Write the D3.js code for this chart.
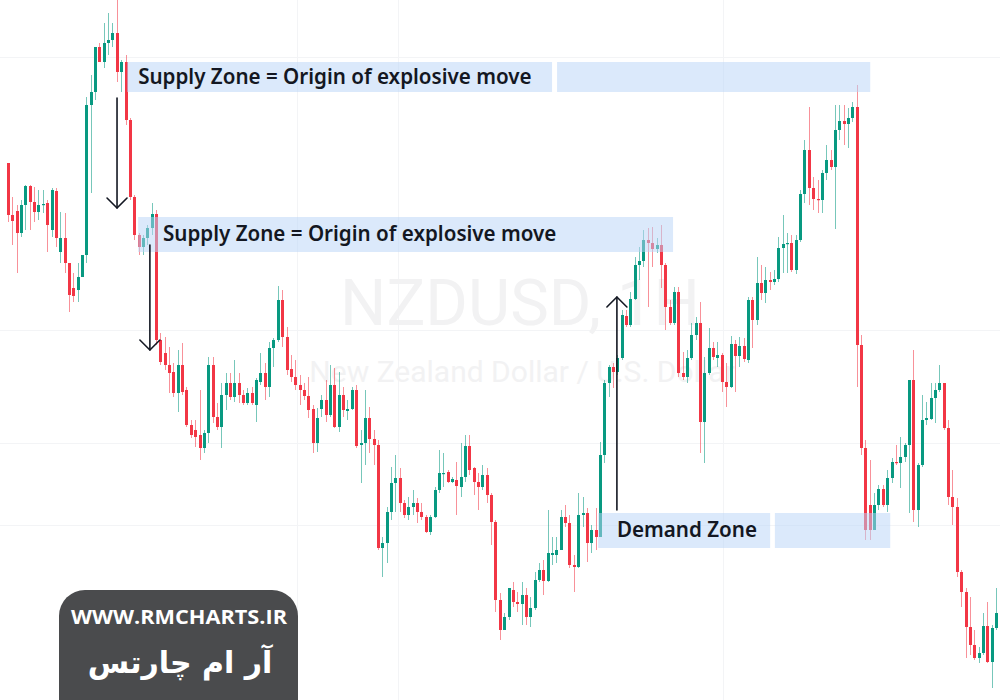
<!DOCTYPE html>
<html>
<head>
<meta charset="utf-8">
<script src="https://cdn.jsdelivr.net/npm/d3@7"></script>
<style>
  html, body { margin: 0; padding: 0; background: #ffffff; }
  svg { display: block; }
</style>
</head>
<body>
<svg id="chart" width="1000" height="700"></svg>
<script>
// ---- Data (prices in 1e-4 units, i.e. 6837 = 0.6837) ----
const open = [6837,6785,6789,6767,6795,6814,6798,6788,6795,6797,6770,6809,6748,6762,6737,6712,6710,6723,6745,6895,
6908,6953,6938,6957,6960,6967,6928,6938,6880,6803,6765,6753,6762,6772,6786,6660,6647,6635,6628,6607,
6635,6610,6575,6570,6565,6552,6567,6635,6583,6573,6605,6617,6603,6617,6605,6597,6607,6595,6618,6627,
6613,6652,6660,6700,6663,6631,6623,6615,6610,6604,6591,6557,6591,6600,6585,6615,6573,6605,6589,6591,
6610,6555,6557,6582,6561,6555,6452,6457,6488,6517,6522,6497,6485,6493,6497,6488,6483,6468,6483,6510,
6526,6528,6518,6520,6513,6523,6554,6532,6518,6513,6525,6505,6478,6400,6370,6383,6410,6398,6396,6405,
6383,6392,6420,6430,6419,6445,6445,6450,6483,6477,6435,6433,6485,6487,6457,6470,6463,6545,6617,6633,
6628,6642,6684,6675,6701,6735,6739,6760,6757,6751,6755,6735,6693,6677,6708,6627,6623,6642,6665,6677,
6578,6627,6652,6642,6645,6618,6613,6656,6644,6654,6640,6700,6680,6717,6707,6720,6718,6721,6752,6756,
6757,6730,6760,6806,6850,6812,6801,6800,6827,6840,6833,6870,6879,6876,6882,6893,6655,6552,6495,6470,
6495,6511,6495,6522,6538,6537,6543,6555,6620,6490,6535,6580,6581,6602,6610,6617,6572,6503,6493,6428,
6408,6373,6355,6342,6347,6374,6338,6372];
const high = [6837,6803,6795,6800,6815,6815,6813,6810,6810,6800,6812,6812,6788,6787,6737,6727,6737,6745,6903,6925,
6953,6957,6977,6987,6977,7000,6940,6945,6882,6805,6767,6765,6775,6797,6790,6667,6663,6653,6637,6650,
6657,6613,6580,6580,6610,6570,6643,6643,6597,6617,6627,6627,6640,6627,6610,6612,6613,6622,6647,6637,
6658,6662,6714,6710,6673,6645,6640,6625,6617,6623,6595,6592,6605,6620,6635,6632,6628,6613,6600,6613,
6615,6570,6610,6593,6570,6560,6463,6493,6533,6545,6532,6500,6503,6510,6502,6497,6485,6485,6513,6550,
6547,6530,6523,6538,6557,6565,6565,6533,6527,6535,6532,6507,6480,6407,6387,6412,6418,6408,6418,6412,
6403,6428,6437,6440,6490,6463,6463,6490,6495,6485,6445,6507,6503,6492,6475,6492,6558,6620,6635,6637,
6645,6690,6690,6708,6743,6753,6770,6772,6773,6762,6775,6737,6700,6713,6713,6648,6650,6677,6683,6698,
6643,6672,6658,6658,6647,6637,6664,6660,6663,6662,6703,6703,6743,6735,6733,6728,6730,6763,6785,6767,
6765,6765,6810,6860,6893,6823,6820,6830,6855,6850,6895,6895,6895,6892,6898,6915,6665,6560,6540,6507,
6515,6515,6530,6542,6555,6563,6557,6620,6650,6537,6605,6598,6617,6617,6635,6617,6580,6530,6502,6430,
6412,6403,6370,6353,6387,6398,6375,6412];
const low = [6778,6755,6727,6763,6770,6770,6778,6780,6787,6748,6763,6753,6737,6727,6688,6698,6698,6723,6737,6807,
6900,6938,6932,6945,6953,6918,6908,6875,6800,6760,6745,6745,6755,6765,6655,6635,6630,6607,6603,6588,
6605,6573,6562,6553,6540,6547,6557,6577,6570,6552,6590,6600,6598,6597,6595,6595,6595,6578,6615,6600,
6603,6633,6658,6653,6625,6618,6610,6595,6600,6582,6547,6548,6583,6578,6583,6572,6568,6583,6580,6590,
6552,6517,6535,6547,6535,6450,6423,6437,6480,6488,6488,6482,6480,6485,6477,6480,6467,6465,6482,6507,
6513,6517,6517,6485,6503,6518,6525,6505,6490,6510,6497,6455,6388,6360,6370,6380,6393,6388,6375,6375,
6373,6390,6418,6405,6418,6435,6437,6450,6473,6432,6408,6432,6473,6438,6447,6450,6463,6537,6603,6612,
6625,6640,6673,6673,6700,6720,6733,6693,6733,6747,6712,6670,6675,6675,6623,6620,6617,6640,6660,6547,
6537,6625,6640,6633,6608,6593,6612,6608,6633,6638,6637,6652,6675,6700,6697,6710,6715,6718,6727,6727,
6728,6726,6758,6797,6795,6790,6787,6787,6820,6830,6771,6860,6855,6852,6878,6613,6545,6460,6460,6470,
6490,6493,6488,6517,6535,6512,6538,6487,6478,6473,6533,6575,6580,6577,6608,6570,6495,6475,6423,6393,
6342,6345,6340,6337,6345,6337,6312,6370];
const close = [6785,6779,6767,6795,6814,6798,6788,6795,6796,6775,6810,6762,6762,6737,6705,6704,6723,6745,6895,6908,
6953,6938,6957,6960,6967,6928,6938,6880,6803,6765,6753,6762,6772,6786,6660,6638,6635,6627,6607,6635,
6608,6575,6565,6563,6552,6567,6635,6583,6573,6605,6617,6603,6617,6605,6597,6607,6597,6620,6627,6613,
6652,6660,6700,6663,6630,6623,6615,6610,6604,6590,6557,6582,6600,6585,6615,6573,6605,6590,6591,6610,
6554,6557,6582,6561,6555,6452,6457,6488,6517,6522,6497,6485,6493,6497,6488,6483,6468,6483,6510,6527,
6527,6518,6521,6514,6523,6554,6530,6518,6513,6525,6505,6478,6400,6370,6383,6412,6398,6396,6405,6383,
6392,6420,6430,6419,6447,6447,6450,6483,6477,6435,6433,6485,6487,6457,6470,6463,6545,6617,6633,6628,
6642,6685,6675,6701,6735,6739,6760,6757,6751,6755,6735,6693,6677,6708,6627,6623,6642,6665,6677,6578,
6627,6652,6643,6645,6618,6613,6656,6644,6654,6641,6700,6680,6717,6707,6720,6718,6721,6752,6756,6757,
6730,6760,6806,6850,6812,6801,6800,6827,6840,6833,6870,6879,6876,6882,6893,6655,6552,6470,6470,6495,
6511,6495,6522,6538,6537,6543,6555,6620,6490,6535,6580,6582,6602,6610,6617,6572,6503,6493,6428,6408,
6373,6355,6342,6347,6374,6338,6372,6387];

// Faint grid (price levels and candle indices)
const gridPrices = [6943, 6670, 6557, 6475];
const gridIndices = [66.4, 89.6, 164.3];

// Zones: [startIndex, endIndex, topPrice, bottomPrice]
const supplyZone1 = [[27.35, 125.0, 6938, 6908], [126.15, 198.1, 6938, 6908]];
const supplyZone2 = [[29.9, 152.8, 6783, 6748]];
const demandZone = [[135.6, 175.1, 6487, 6452], [176.2, 202.7, 6487, 6452]];

// Arrows: [index, fromPrice, toPrice]
const arrows = [[25.05, 6902, 6792], [32.6, 6755, 6650], [139.9, 6490, 6703]];

// Labels: [index, price, text]
const labels = [[29.9, 6916, "Supply Zone = Origin of explosive move"],
                [35.6, 6759, "Supply Zone = Origin of explosive move"],
                [139.9, 6463, "Demand Zone"]];

const symbolTitle = "NZDUSD, 1H";
const symbolSub = "New Zealand Dollar / U.S. Dollar";
const badgeLine1 = "WWW.RMCHARTS.IR";
const badgeLine2 = "آر ام چارتس";

// ---- Drawing ----
const W = 1000, H = 700;
const svg = d3.select("#chart");
const n = open.length;
const P = v => v / 10000;

const step = (996 - 8) / (n - 1);
const x = d3.scaleBand().domain(d3.range(n))
  .range([8 - step / 2, 996 + step / 2]).paddingInner(0.36).paddingOuter(0.18);
const xi = d3.scaleLinear().domain([0, n - 1]).range([8, 996]);
const y = d3.scaleLinear().domain([0.63, 0.70]).range([H, 0]);

const UP = "#089981", DOWN = "#f23645";

// grid
const grid = svg.append("g");
grid.selectAll("line.h").data(gridPrices).join("line")
  .attr("x1", 0).attr("x2", W)
  .attr("y1", d => Math.round(y(P(d))) + 0.5).attr("y2", d => Math.round(y(P(d))) + 0.5)
  .attr("stroke", "#f3f4f6").attr("stroke-width", 1);
grid.selectAll("line.v").data(gridIndices).join("line")
  .attr("y1", 0).attr("y2", H)
  .attr("x1", d => Math.round(xi(d)) + 0.5).attr("x2", d => Math.round(xi(d)) + 0.5)
  .attr("stroke", "#f3f4f6").attr("stroke-width", 1);

// watermark
svg.append("text").attr("x", 520).attr("y", y(0.6675))
  .attr("text-anchor", "middle").attr("font-family", "Roboto, sans-serif")
  .attr("font-size", 64).attr("fill", "#f2f2f3")
  .attr("textLength", 360).attr("lengthAdjust", "spacingAndGlyphs").text(symbolTitle);
svg.append("text").attr("x", 522).attr("y", y(0.6618))
  .attr("text-anchor", "middle").attr("font-family", "Roboto, sans-serif")
  .attr("font-size", 30).attr("fill", "#f2f2f3").text(symbolSub);

// candles
const idx = d3.range(n);
const cx = i => Math.round(x(i) + x.bandwidth() / 2);
const candles = svg.append("g");
candles.selectAll("line.wick").data(idx).join("line")
  .attr("x1", i => cx(i) + 0.5).attr("x2", i => cx(i) + 0.5)
  .attr("y1", i => y(P(high[i]))).attr("y2", i => y(P(low[i])))
  .attr("stroke", i => close[i] >= open[i] ? UP : DOWN)
  .attr("stroke-opacity", 0.55).attr("stroke-width", 1);
candles.selectAll("rect.body").data(idx).join("rect")
  .attr("x", i => cx(i) - 1)
  .attr("width", 3)
  .attr("y", i => y(P(Math.max(open[i], close[i]))))
  .attr("height", i => Math.max(1.2, Math.abs(y(P(open[i])) - y(P(close[i])))))
  .attr("fill", i => close[i] >= open[i] ? UP : DOWN);

// zones
const zoneFill = "rgba(186,213,248,0.52)";
const zones = [...supplyZone1, ...supplyZone2, ...demandZone];
svg.append("g").selectAll("rect").data(zones).join("rect")
  .attr("x", d => xi(d[0])).attr("width", d => xi(d[1]) - xi(d[0]))
  .attr("y", d => y(P(d[2]))).attr("height", d => y(P(d[3])) - y(P(d[2])))
  .attr("fill", zoneFill);

// arrows
const ag = svg.append("g").attr("fill", "none").attr("stroke", "#131722")
  .attr("stroke-width", 1.6).attr("stroke-linecap", "round").attr("stroke-linejoin", "round");
arrows.forEach(a => {
  const ax = xi(a[0]), y0 = y(P(a[1])), y1 = y(P(a[2]));
  const dir = y1 > y0 ? 1 : -1;
  ag.append("line").attr("x1", ax).attr("x2", ax).attr("y1", y0).attr("y2", y1);
  ag.append("path").attr("d", `M${ax - 10},${y1 - dir * 10} L${ax},${y1} L${ax + 10},${y1 - dir * 10}`);
});

// labels
svg.append("g").selectAll("text").data(labels).join("text")
  .attr("x", d => xi(d[0])).attr("y", d => y(P(d[1])))
  .attr("font-family", "'Noto Sans', sans-serif").attr("font-weight", 600)
  .attr("font-size", 20.6).attr("fill", "#131722").text(d => d[2]);

// badge
const badge = svg.append("g");
badge.append("rect").attr("x", 59).attr("y", 590).attr("width", 239).attr("height", 140)
  .attr("rx", 26).attr("fill", "#4a4b4d");
badge.append("text").attr("x", 179).attr("y", 624).attr("text-anchor", "middle")
  .attr("font-family", "'Open Sans', 'Noto Sans', sans-serif").attr("font-weight", 700)
  .attr("font-size", 19).attr("fill", "#ffffff")
  .attr("textLength", 216).attr("lengthAdjust", "spacingAndGlyphs").text(badgeLine1);
badge.append("text").attr("x", 180).attr("y", 673).attr("text-anchor", "middle")
  .attr("font-family", "'DejaVu Sans', sans-serif").attr("font-weight", 700)
  .attr("font-size", 30).attr("fill", "#ffffff").attr("direction", "rtl").text(badgeLine2);
</script>
</body>
</html>
